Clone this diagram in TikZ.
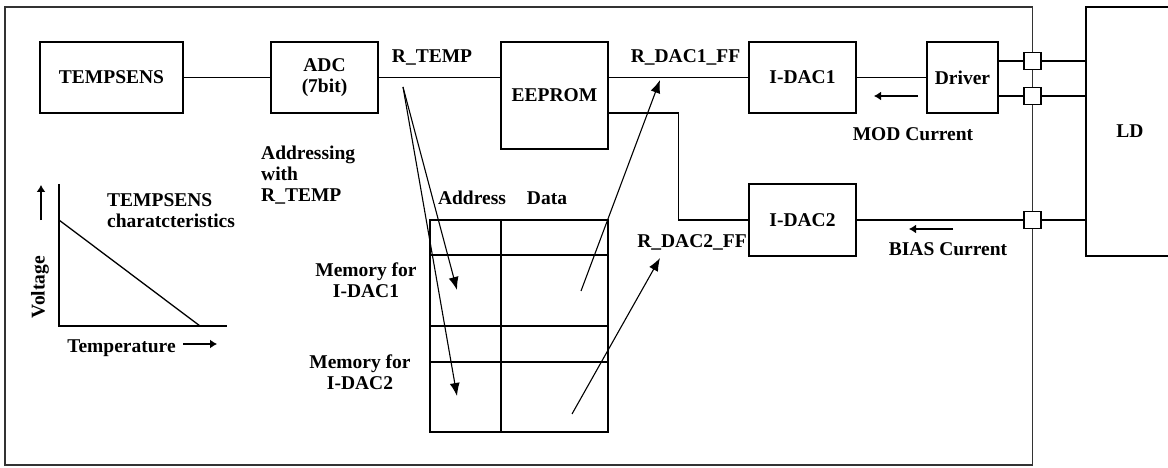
\documentclass[tikz,border=0pt]{standalone}
\usepackage{fontspec}
\setmainfont{Liberation Serif}
\usetikzlibrary{arrows.meta,positioning}

\begin{document}
\begin{tikzpicture}[x=1pt, y=-1pt,
  every node/.style={font=\bfseries\fontsize{19.5}{21}\selectfont},
  box/.style={draw, line width=1.3pt, inner sep=0pt, align=center},
  pad/.style={draw, fill=white, line width=1.3pt, minimum size=17pt, inner sep=0pt},
  line/.style={line width=1.3pt},
  ptr/.style={line width=1.1pt, -{Latex[length=13pt,width=10pt]}},
  flow/.style={line width=1.3pt, -{Latex[length=7pt,width=9pt]}},
  lbl/.style={inner sep=0pt, align=left}
]
\useasboundingbox (0,0) rectangle (1168,468);
\draw[line, draw=black!80] (5,7) rectangle (1032.5,465);

\node[box, minimum width=143pt, minimum height=71pt] (tempsens) at (111.5,77.5) {TEMPSENS};
\node[box, minimum width=107pt, minimum height=71pt] (adc) at (324.5,77.5) {ADC\\(7bit)};
\node[box, minimum width=107pt, minimum height=107pt] (eeprom) at (554.5,95.5) {EEPROM};
\node[box, minimum width=107pt, minimum height=71pt] (idac1) at (802.5,77.5) {I-DAC1};
\node[box, minimum width=107pt, minimum height=72pt] (idac2) at (802.5,220) {I-DAC2};
\node[box, minimum width=71pt, minimum height=71pt] (driver) at (962.5,77.5) {Driver};
\node[box, minimum width=88pt, minimum height=249pt] (ld) at (1130,131.5) {LD};

\node[lbl] (rtemp) at (432,57) {R\_TEMP};
\node[lbl] (rdac1) at (685.5,57) {R\_DAC1\_FF};
\node[lbl] (rdac2) at (692,242) {R\_DAC2\_FF};
\node[lbl] (modcur) at (913,134) {MOD Current};
\node[lbl] (biascur) at (948,249) {BIAS Current};
\node[lbl, anchor=west] (addressing) at (261,175) {Addressing\\with\\R\_TEMP};
\node[lbl, anchor=west] (charact) at (107,210.5) {TEMPSENS\\charatcteristics};
\node[lbl, rotate=90] (voltage) at (40,287) {Voltage};
\node[lbl] (temperature) at (121.5,348) {Temperature};
\node[lbl] (address) at (472,198) {Address};
\node[lbl] (data) at (547,198) {Data};
\node[lbl, align=center] (mem1) at (366,280) {Memory for\\I-DAC1};
\node[lbl, align=center] (mem2) at (360,372) {Memory for\\I-DAC2};

\draw[line] (tempsens) -- (adc);
\draw[line] (adc.east) -- (adc.east -| eeprom.west);
\draw[line] (eeprom.east |- idac1.west) -- (idac1.west);
\coordinate (eout) at (608,113);
\draw[line] (eout) -| ([xshift=-70pt]idac2.west) -- (idac2.west);
\draw[line] (idac1) -- (driver);

\node[pad] (pad1) at (1032.5,61) {};
\node[pad] (pad2) at (1032.5,96) {};
\node[pad] (pad3) at (1032.5,220) {};
\draw[line] (driver.east |- pad1) -- (pad1.west);
\draw[line] (pad1.east) -- (pad1 -| ld.west);
\draw[line] (driver.east |- pad2) -- (pad2.west);
\draw[line] (pad2.east) -- (pad2 -| ld.west);
\draw[line] (idac2.east) -- (pad3.west);
\draw[line] (pad3.east) -- (pad3 -| ld.west);

\coordinate (modA) at (918,96);
\coordinate (modB) at (874,96);
\draw[flow] (modA) -- (modB);
\coordinate (biasA) at (953,229);
\coordinate (biasB) at (909,229);
\draw[flow] (biasA) -- (biasB);

\node[draw, line width=1.3pt, minimum width=178pt, minimum height=212pt, inner sep=0pt] (mem) at (519,326) {};
\draw[line] (501,220) -- (501,432);
\foreach \r in {255,326,362}
  \draw[line] (430,\r) -- (608,\r);

\coordinate (rsrc) at (403,87);
\coordinate (cell1) at (457,290);
\coordinate (cell2) at (457,396);
\draw[ptr] (rsrc) -- (cell1);
\draw[ptr] (rsrc) -- (cell2);
\coordinate (dat1) at (581,291);
\coordinate (dat2) at (572,414);
\coordinate (ff1) at (660,80);
\coordinate (ff2) at (660,258);
\draw[ptr] (dat1) -- (ff1);
\draw[ptr] (dat2) -- (ff2);

\draw[line] (59,184) |- (227,326);
\draw[line] (59,220) -- (200,326);
\coordinate (vA) at (41,220);
\coordinate (vB) at (41,185);
\draw[flow] (vA) -- (vB);
\coordinate (tA) at (183,344);
\coordinate (tB) at (217,344);
\draw[flow] (tA) -- (tB);
\end{tikzpicture}
\end{document}
